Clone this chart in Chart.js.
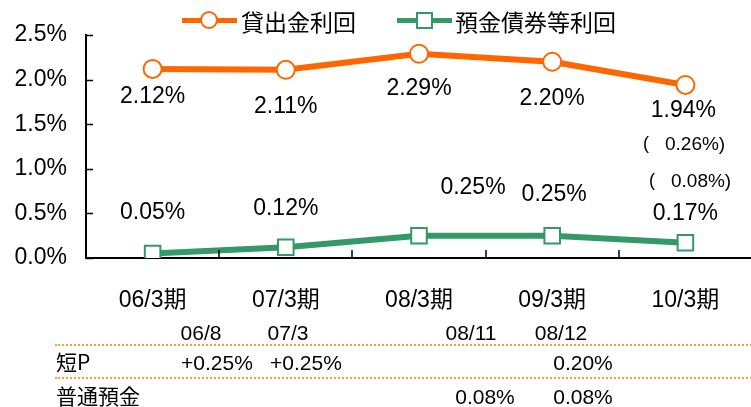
<!DOCTYPE html>
<html>
<head>
<meta charset="utf-8">
<script src="https://cdn.jsdelivr.net/npm/chart.js@4.4.1/dist/chart.umd.min.js"></script>
<style>
    html, body {
        margin: 0;
        padding: 0;
        width: 751px;
        height: 407px;
        overflow: hidden;
        background: #fff;
        font-family: "Liberation Sans", Arial, "Noto Sans CJK JP", sans-serif;
        color: #000;
    }
    #wrap {
        position: relative;
        width: 770px;
        height: 407px;
    }
    #chart {
        position: absolute;
        left: 0;
        top: 0;
    }
    .txt {
        position: absolute;
        white-space: nowrap;
        line-height: 1;
    }
    .c {
        transform: translate(-50%, -50%);
    }
    .l {
        transform: translate(0, -50%);
    }
    .cjk {
        font-family: "Noto Sans CJK JP", sans-serif;
    }
    .dots {
        position: absolute;
        left: 55px;
        width: 700px;
        height: 0;
        border-top: 2px dotted #F7A234;
    }
</style>
</head>
<body>
<div id="wrap">
    <canvas id="chart" width="765" height="407"></canvas>

    <!-- legend -->
    <div style="position:absolute;left:182px;top:18px;width:55px;height:5px;background:#FF6600;"></div>
    <div style="position:absolute;left:200px;top:11px;width:14px;height:14px;border:2px solid #FF6600;border-radius:50%;background:#fff;"></div>
    <div class="txt l cjk" style="left:241px;top:21px;font-size:23px;">貸出金利回</div>
    <div style="position:absolute;left:397px;top:18px;width:55px;height:5px;background:#339966;"></div>
    <div style="position:absolute;left:416px;top:12px;width:13px;height:13px;border:2px solid #339966;background:#fff;"></div>
    <div class="txt l cjk" style="left:455px;top:21px;font-size:23px;">預金債券等利回</div>

    <div id="notes"></div>
</div>

<script>
// Categories and series
const periods = ['06/3期', '07/3期', '08/3期', '09/3期', '10/3期'];
const loanYield = [2.12, 2.11, 2.29, 2.20, 1.94];
const depositYield = [0.05, 0.12, 0.25, 0.25, 0.17];

// Y axis ticks (%)
const yTicks = [0, 0.5, 1.0, 1.5, 2.0, 2.5];

// Notes under the chart: rate change dates and amounts
const changeDates = ['06/8', '07/3', '08/11', '08/12'];
const primeChanges = ['+0.25%', '+0.25%', '', '0.20%'];
const savingsChanges = ['', '', '0.08%', '0.08%'];
const sideNotes = ['0.26%', '0.08%'];

// Label placement relative to points (dx, dy)
const loanLabelOffset = [[0, 28], [0, 37], [0, 35], [0, 37], [-2, 26]];
const depositLabelOffset = [[0, -41], [0, -39], [54, -48], [2, -41], [0, -29]];

const ORANGE = '#FF6600';
const GREEN = '#339966';

/**
 * Draw value labels next to each point
 */
const valueLabels = {
    id: 'valueLabels',
    afterDatasetsDraw(chart) {
        const ctx = chart.ctx;
        const offsets = [loanLabelOffset, depositLabelOffset];
        ctx.save();
        ctx.font = '23px "Liberation Sans", Arial';
        ctx.fillStyle = '#000';
        ctx.textAlign = 'center';
        ctx.textBaseline = 'middle';
        chart.data.datasets.forEach((ds, i) => {
            const meta = chart.getDatasetMeta(i);
            meta.data.forEach((pt, j) => {
                const off = offsets[i][j];
                ctx.fillText(ds.data[j].toFixed(2) + '%', pt.x + off[0], pt.y + off[1]);
            });
        });
        ctx.restore();
    }
};

/**
 * Inward tick marks on both axes
 */
const innerTicks = {
    id: 'innerTicks',
    afterDraw(chart) {
        const ctx = chart.ctx;
        const area = chart.chartArea;
        const x = chart.scales.x;
        const y = chart.scales.y;
        ctx.save();
        ctx.strokeStyle = '#000';
        ctx.lineWidth = 1.5;
        ctx.beginPath();
        y.ticks.forEach((t, i) => {
            const py = Math.round(y.getPixelForTick(i)) + 0.5;
            ctx.moveTo(area.left, py);
            ctx.lineTo(area.left + 7, py);
        });
        for (let i = 1; i < periods.length; i++) {
            const px = Math.round((x.getPixelForTick(i - 1) + x.getPixelForTick(i)) / 2);
            ctx.moveTo(px, area.bottom);
            ctx.lineTo(px, area.bottom - 8);
        }
        ctx.stroke();
        ctx.restore();
    }
};

new Chart(document.getElementById('chart'), {
    type: 'line',
    data: {
        labels: periods,
        datasets: [{
            label: '貸出金利回',
            data: loanYield,
            borderColor: ORANGE,
            borderWidth: 6,
            tension: 0,
            pointStyle: 'circle',
            pointRadius: 9,
            pointBorderWidth: 2,
            pointBorderColor: ORANGE,
            pointBackgroundColor: '#fff'
        }, {
            label: '預金債券等利回',
            data: depositYield,
            borderColor: GREEN,
            borderWidth: 6,
            tension: 0,
            pointStyle: 'rect',
            pointRadius: 11,
            pointBorderWidth: 2,
            pointBorderColor: GREEN,
            pointBackgroundColor: '#fff'
        }]
    },
    options: {
        responsive: false,
        animation: false,
        layout: {
            padding: { top: 35, right: 0, bottom: 0, left: 0 }
        },
        plugins: {
            legend: { display: false },
            tooltip: { enabled: false }
        },
        scales: {
            x: {
                offset: true,
                grid: { display: false },
                border: { display: true, color: '#000', width: 2 },
                ticks: {
                    color: '#000',
                    padding: 21,
                    font: { family: '"Liberation Sans", Arial, "Noto Sans CJK JP"', size: 23 }
                },
                afterFit(scale) {
                    scale.height = 149;
                    scale.paddingLeft = 0;
                    scale.paddingRight = 0;
                }
            },
            y: {
                min: 0,
                max: 2.5,
                afterBuildTicks(scale) {
                    scale.ticks = yTicks.map(v => ({ value: v }));
                },
                grid: { display: false },
                border: { display: true, color: '#000', width: 2 },
                ticks: {
                    color: '#000',
                    padding: 11,
                    font: { family: '"Liberation Sans", Arial', size: 23 },
                    callback: v => v.toFixed(1) + '%'
                },
                afterFit(scale) {
                    scale.width = 86;
                }
            }
        }
    },
    plugins: [valueLabels, innerTicks]
});

// Notes table below the chart
const notes = document.getElementById('notes');
function addText(text, x, y, size, cls) {
    if (!text) return;
    const d = document.createElement('div');
    d.className = 'txt ' + cls;
    d.style.left = x + 'px';
    d.style.top = y + 'px';
    d.style.fontSize = size + 'px';
    d.textContent = text;
    notes.appendChild(d);
}
const noteCols = [201, 288, 471, 561];
const noteValueCols = [217, 306, 485, 583];
changeDates.forEach((t, i) => addText(t, noteCols[i], 332, 21, 'c'));
primeChanges.forEach((t, i) => addText(t, noteValueCols[i], 362, 21, 'c'));
savingsChanges.forEach((t, i) => addText(t, noteValueCols[i], 396, 21, 'c'));
addText('短P', 56, 361, 21, 'l cjk');
addText('普通預金', 56, 395, 21, 'l cjk');

// Side notes next to the last period
const sideX = [643, 649];
const sideY = [143, 180];
sideNotes.forEach((t, i) => {
    addText('(', sideX[i], sideY[i], 18, 'l');
    addText(t + ')', sideX[i] + 22, sideY[i], 19, 'l');
});

['344', '377'].forEach(top => {
    const d = document.createElement('div');
    d.className = 'dots';
    d.style.top = top + 'px';
    notes.appendChild(d);
});
</script>
</body>
</html>
